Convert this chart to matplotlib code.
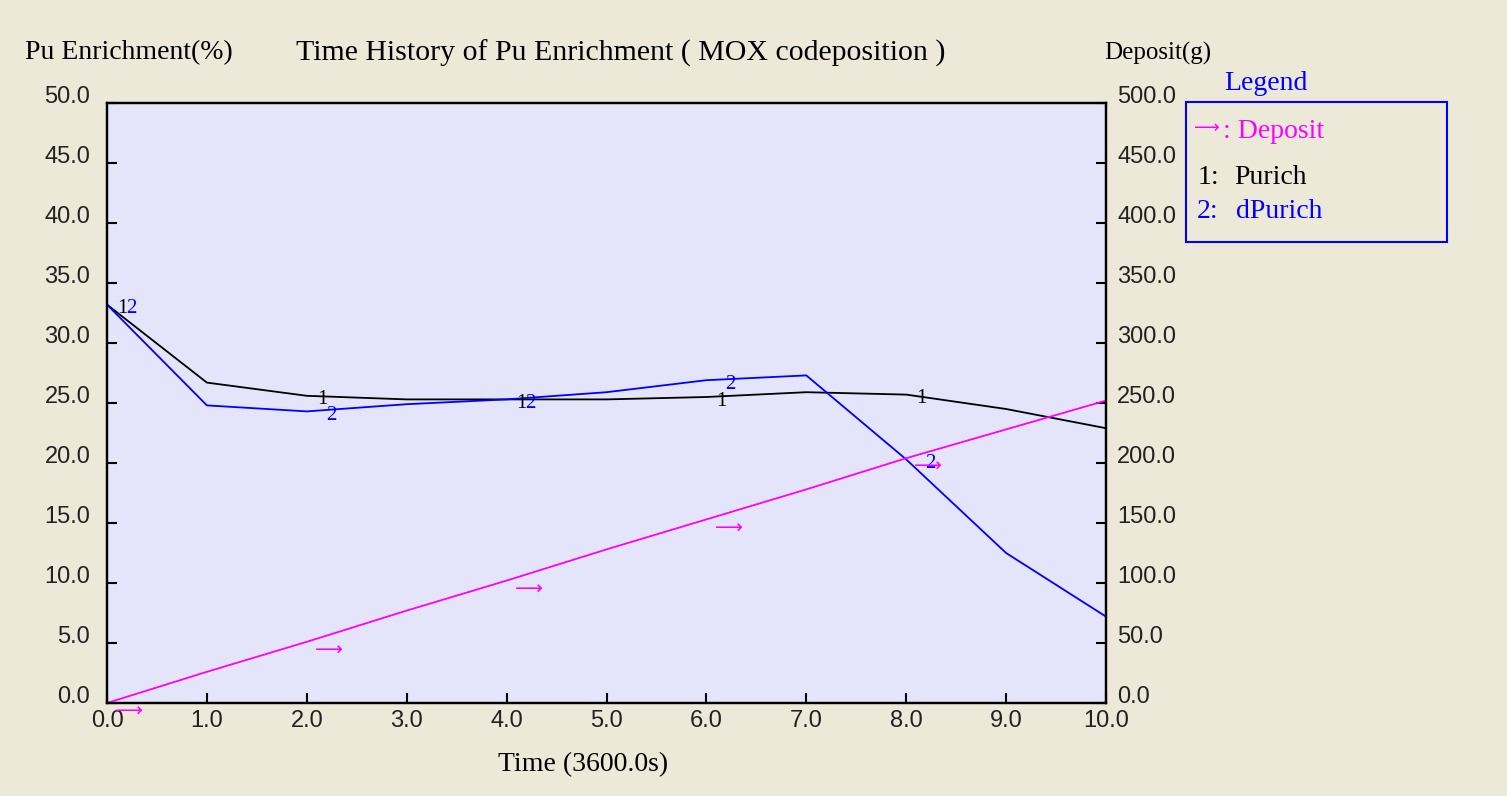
import matplotlib
matplotlib.use("Agg")
import matplotlib.pyplot as plt
from matplotlib.patches import Rectangle

# ---------------------------------------------------------------------------
# Data
# ---------------------------------------------------------------------------
time_h = [0, 1, 2, 3, 4, 5, 6, 7, 8, 9, 10]
purich = [33.2, 26.7, 25.6, 25.3, 25.3, 25.3, 25.5, 25.9, 25.7, 24.5, 22.9]
dpurich = [33.2, 24.8, 24.3, 24.9, 25.3, 25.9, 26.9, 27.3, 20.3, 12.5, 7.2]
deposit = [0, 26, 51, 77, 102, 128, 153, 178, 204, 228, 252]

# curve symbols are drawn every 2nd sample, shifted a little to the right
mark_idx = [0, 2, 4, 6, 8]

xticks = [0, 1, 2, 3, 4, 5, 6, 7, 8, 9, 10]
yticks_left = [0, 5, 10, 15, 20, 25, 30, 35, 40, 45, 50]
yticks_right = [0, 50, 100, 150, 200, 250, 300, 350, 400, 450, 500]

# ---------------------------------------------------------------------------
# Style
# ---------------------------------------------------------------------------
BG = "#ECE9D8"
PLOT_BG = "#E4E4FA"
BLUE = "#0000FF"
MAGENTA = "#FF00FF"
SERIF = ["Liberation Serif", "DejaVu Serif"]
SANS = ["Liberation Sans", "DejaVu Sans"]
ARROW_FONT = ["DejaVu Sans"]
ARROW = "\u27F6"
CAP_SIZE = 20
TICK_SIZE = 17

fig = plt.figure(figsize=(15.07, 7.96), dpi=100, facecolor=BG)
ax = fig.add_axes([107 / 1507, 1 - 703 / 796, 999 / 1507, 600 / 796])
ax.set_facecolor(PLOT_BG)
ax2 = ax.twinx()
ax2.patch.set_visible(False)

ax.plot(time_h, purich, color="black", lw=1.3)
ax.plot(time_h, dpurich, color=BLUE, lw=1.3)
ax2.plot(time_h, deposit, color=MAGENTA, lw=1.3)

for i in mark_idx:
    t = time_h[i]
    ax.annotate("1", xy=(t + 0.1, purich[i]), xytext=(0, -3),
                textcoords="offset points", ha="left", va="center",
                fontsize=15, family=SERIF, color="black")
    ax.annotate("2", xy=(t + 0.19, dpurich[i]), xytext=(0, -3),
                textcoords="offset points", ha="left", va="center",
                fontsize=15, family=SERIF, color=BLUE)
    ax2.annotate(ARROW, xy=(t + 0.08, deposit[i]), xytext=(0, -6),
                 textcoords="offset points", ha="left", va="center",
                 fontsize=14, family=ARROW_FONT, color=MAGENTA,
                 annotation_clip=False)

ax.set_xlim(0, 10)
ax.set_ylim(0, 50)
ax2.set_ylim(0, 500)

ax.set_xticks(xticks)
ax.set_xticklabels([f"{v:.1f}" for v in xticks])
ax.set_yticks(yticks_left)
ax.set_yticklabels([f"{v:.1f}" for v in yticks_left])
ax2.set_yticks(yticks_right)
ax2.set_yticklabels([f"{v:.1f}" for v in yticks_right])

ax.tick_params(axis="x", direction="in", length=7, width=1.5, pad=5,
               labelsize=TICK_SIZE, top=False)
ax.tick_params(axis="y", direction="in", length=7, width=1.5, pad=12,
               labelsize=TICK_SIZE, right=False)
ax2.tick_params(axis="y", direction="in", length=7, width=1.5, pad=8,
                labelsize=TICK_SIZE)
for lbl in ax.get_xticklabels() + ax.get_yticklabels() + ax2.get_yticklabels():
    lbl.set_family(SANS)
    lbl.set_color("#222222")
for lbl in ax.get_yticklabels() + ax2.get_yticklabels():
    lbl.set_va("baseline")

for a in (ax, ax2):
    for s in a.spines.values():
        s.set_linewidth(1.6)
        s.set_color("black")

# titles / axis captions
fig.text(25 / 1507, 1 - 53 / 796, "Pu Enrichment(%)", ha="left", va="center",
         fontsize=CAP_SIZE, family=SERIF)
fig.text(296 / 1507, 1 - 53 / 796, "Time History of Pu Enrichment ( MOX codeposition )",
         ha="left", va="center", fontsize=21.5, family=SERIF)
fig.text(1104 / 1507, 1 - 53 / 796, "Deposit(g)", ha="left", va="center",
         fontsize=18, family=SERIF)
fig.text(583 / 1507, 1 - 765 / 796, "Time (3600.0s)", ha="center", va="center",
         fontsize=CAP_SIZE, family=SERIF)

# legend box
fig.patches.append(Rectangle((1186 / 1507, 1 - 242 / 796), 261 / 1507, 140 / 796,
                             transform=fig.transFigure, fill=False,
                             edgecolor=BLUE, lw=1.5))
fig.text(1266 / 1507, 1 - 83 / 796, "Legend", ha="center", va="center",
         fontsize=CAP_SIZE, family=SERIF, color=BLUE)
fig.text(1194 / 1507, 1 - 128 / 796, ARROW, ha="left", va="center",
         fontsize=13, family=ARROW_FONT, color=MAGENTA)
fig.text(1223 / 1507, 1 - 131 / 796, ": Deposit", ha="left", va="center",
         fontsize=CAP_SIZE, family=SERIF, color=MAGENTA)
fig.text(1198 / 1507, 1 - 177 / 796, "1:", ha="left", va="center",
         fontsize=CAP_SIZE, family=SERIF, color="black")
fig.text(1234 / 1507, 1 - 177 / 796, "Purich", ha="left", va="center",
         fontsize=CAP_SIZE, family=SERIF, color="black")
fig.text(1197 / 1507, 1 - 212 / 796, "2:", ha="left", va="center",
         fontsize=CAP_SIZE, family=SERIF, color=BLUE)
fig.text(1236 / 1507, 1 - 212 / 796, "dPurich", ha="left", va="center",
         fontsize=CAP_SIZE, family=SERIF, color=BLUE)

fig.savefig("out.png", dpi=100, facecolor=BG)
